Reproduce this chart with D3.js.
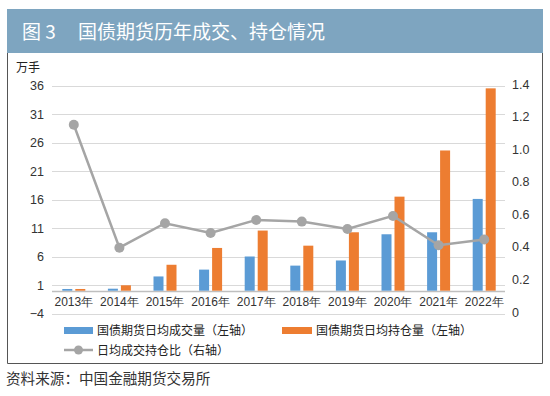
<!DOCTYPE html>
<html><head><meta charset="utf-8">
<script src="https://cdn.jsdelivr.net/npm/d3@7"></script>
<style>body{margin:0;background:#fff;}svg{display:block;font-family:"Noto Sans CJK SC","Noto Sans",sans-serif;}</style>
</head><body>
<svg id="c" width="550" height="396"></svg>
<script>
const years = ["2013年","2014年","2015年","2016年","2017年","2018年","2019年","2020年","2021年","2022年"];
const volume = [0.3,0.35,2.5,3.7,6.0,4.4,5.3,9.9,10.25,16.1];
const openInterest = [0.3,0.95,4.55,7.5,10.55,7.9,10.25,16.5,24.6,35.5];
const ratio = [1.15,0.395,0.545,0.485,0.565,0.555,0.51,0.59,0.41,0.445];
const leftTicks = [-4,1,6,11,16,21,26,31,36];
const rightTicks = [0,0.2,0.4,0.6,0.8,1.0,1.2,1.4];
const figLabel = "图 3";
const title = "国债期货历年成交、持仓情况";
const seriesNames = ["国债期货日均成交量（左轴）","国债期货日均持仓量（左轴）","日均成交持仓比（右轴）"];
const source = "资料来源：中国金融期货交易所";
const colors = {vol:"#5b9bd5", oi:"#ed7d31", ratio:"#a5a5a5"};

const svg = d3.select("#c");
// header
svg.append("rect").attr("x",7).attr("y",9).attr("width",536).attr("height",44).attr("fill","#7ea5c0");
svg.append("text").attr("x",22).attr("y",38.5).attr("fill","#fff").attr("font-size",19).text(figLabel);
svg.append("text").attr("x",78).attr("y",38.5).attr("fill","#fff").attr("font-size",19).text(title);
// frame
svg.append("path").attr("d","M7.5,53 V363.5 H542.5 V53").attr("fill","none").attr("stroke","#555").attr("stroke-width",1);

const x = d3.scaleBand().domain(years).range([51,507]);
const yL = d3.scaleLinear().domain([-4,36]).range([313.5,85.5]);
const yR = d3.scaleLinear().domain([0,1.4]).range([312,84]);

// gridlines
svg.append("g").selectAll("line").data(leftTicks).join("line")
  .attr("x1",52).attr("x2",505).attr("y1",d=>Math.round(yL(d))+0.5).attr("y2",d=>Math.round(yL(d))+0.5)
  .attr("stroke","#d9d9d9").attr("stroke-width",1.2);
// zero axis line
svg.append("line").attr("x1",52).attr("x2",505).attr("y1",Math.round(yL(0))+0.5).attr("y2",Math.round(yL(0))+0.5)
  .attr("stroke","#bfbfbf").attr("stroke-width",1.5);

// left axis
const gL = svg.append("g").attr("transform","translate(44,0)")
  .call(d3.axisLeft(yL).tickValues(leftTicks).tickSize(0).tickPadding(0).tickFormat(d3.format("d")));
gL.select(".domain").remove();
gL.selectAll("text").attr("font-size",12.5).attr("fill","#333").attr("font-family","Liberation Sans, Arial, sans-serif");
svg.append("text").attr("x",16).attr("y",72).attr("font-size",12).attr("fill","#222").text("万手");

// right axis
const gR = svg.append("g").attr("transform","translate(512,0)")
  .call(d3.axisRight(yR).tickValues(rightTicks).tickSize(0).tickPadding(0).tickFormat(d=>d===0?"0":d3.format(".1f")(d)));
gR.select(".domain").remove();
gR.selectAll("text").attr("font-size",12.5).attr("fill","#333").attr("font-family","Liberation Sans, Arial, sans-serif");

// bars
const bw = 10;
const gB = svg.append("g");
gB.selectAll("rect.v").data(years).join("rect").attr("class","v")
  .attr("x",d=>x(d)+x.bandwidth()/2-bw-1.5).attr("width",bw)
  .attr("y",(d,i)=>yL(volume[i])).attr("height",(d,i)=>yL(0)-yL(volume[i])).attr("fill",colors.vol);
gB.selectAll("rect.o").data(years).join("rect").attr("class","o")
  .attr("x",d=>x(d)+x.bandwidth()/2+1.5).attr("width",bw)
  .attr("y",(d,i)=>yL(openInterest[i])).attr("height",(d,i)=>yL(0)-yL(openInterest[i])).attr("fill",colors.oi);

// x labels
const gX = svg.append("g").attr("transform",`translate(0,${yL(0)})`)
  .call(d3.axisBottom(x).tickSize(0).tickPadding(7));
gX.select(".domain").remove();
gX.selectAll("text").attr("font-size",12).attr("fill","#333");

// line
const line = d3.line().x((d,i)=>x(years[i])+x.bandwidth()/2).y(d=>yR(d));
svg.append("path").datum(ratio).attr("d",line).attr("fill","none").attr("stroke",colors.ratio).attr("stroke-width",2.5);
svg.append("g").selectAll("circle").data(ratio).join("circle")
  .attr("cx",(d,i)=>x(years[i])+x.bandwidth()/2).attr("cy",d=>yR(d)).attr("r",5).attr("fill",colors.ratio);

// legend
const lg = svg.append("g");
lg.append("rect").attr("x",64).attr("y",327).attr("width",29).attr("height",7).attr("fill",colors.vol);
lg.append("text").attr("x",97).attr("y",335).attr("font-size",12).attr("fill","#222").text(seriesNames[0]);
lg.append("rect").attr("x",282).attr("y",327).attr("width",30).attr("height",7).attr("fill",colors.oi);
lg.append("text").attr("x",316).attr("y",335).attr("font-size",12).attr("fill","#222").text(seriesNames[1]);
lg.append("line").attr("x1",64).attr("x2",93).attr("y1",350).attr("y2",350).attr("stroke",colors.ratio).attr("stroke-width",2.5);
lg.append("circle").attr("cx",78.5).attr("cy",350).attr("r",4.5).attr("fill",colors.ratio);
lg.append("text").attr("x",97).attr("y",354.5).attr("font-size",12).attr("fill","#222").text(seriesNames[2]);

// source
svg.append("text").attr("x",6).attr("y",384).attr("font-size",14.6).attr("fill","#333").text(source);
</script>
</body></html>
